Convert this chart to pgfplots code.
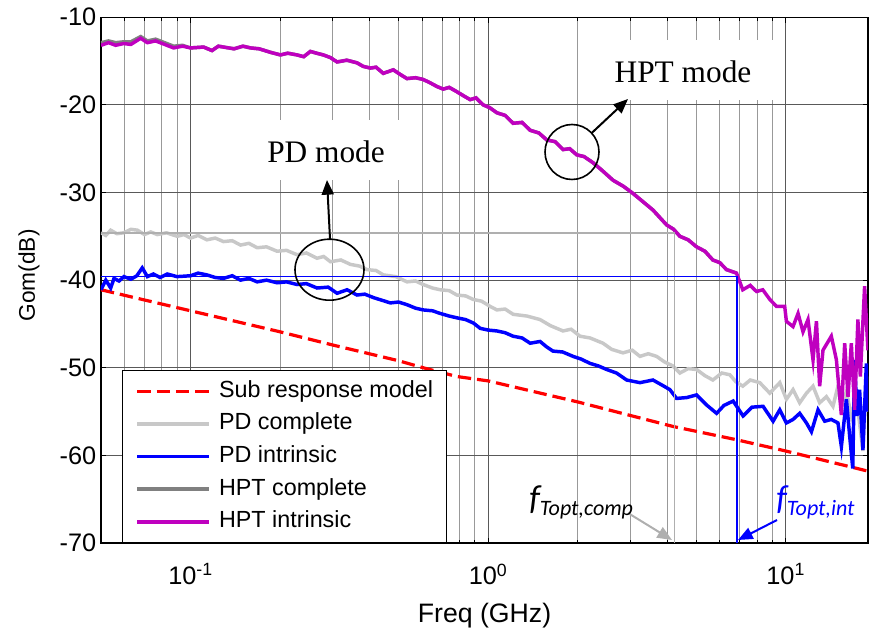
\documentclass[border=0pt]{standalone}
\usepackage{pgfplots}
\pgfplotsset{compat=1.18}
\usetikzlibrary{arrows.meta}
\usepackage{fontspec}
\setmainfont{Liberation Sans}
\newfontfamily\timesfont{Liberation Serif}
\newfontfamily\calfont{Carlito}
\definecolor{hptmag}{RGB}{191,0,191}
\definecolor{pdlight}{RGB}{200,200,200}
\definecolor{hptgray}{RGB}{128,128,128}
\definecolor{refgray}{RGB}{175,175,175}

\begin{document}
\begin{tikzpicture}
\useasboundingbox (0,0) rectangle (652.5pt,474pt);
\begin{axis}[
  at={(75.75pt,66.75pt)}, anchor=south west,
  width=575.25pt, height=394.3pt, scale only axis,
  xmode=log, xmin=0.05, xmax=18.9,
  ymin=-70, ymax=-10,
  xtick={0.1,1,10},
  xticklabels={10\textsuperscript{-1},10\textsuperscript{0},10\textsuperscript{1}},
  minor xtick={0.05,0.06,0.07,0.08,0.09,0.2,0.3,0.4,0.5,0.6,0.7,0.8,0.9,2,3,4,5,6,7,8,9},
  ytick={-70,-60,-50,-40,-30,-20,-10},
  yticklabels={-70,-60,-50,-40,-30,-20,-10},
  grid=both,
  major grid style={black!65, line width=0.6pt},
  minor grid style={black!40, line width=0.6pt},
  tick align=inside,
  major tick length=4pt, minor tick length=2.5pt,
  tick style={black, line width=0.6pt},
  axis line style={line width=1pt},
  ticklabel style={font=\fontsize{19}{21}\selectfont},
  xticklabel style={yshift=-12pt},
  xlabel={Freq (GHz)},
  xlabel style={at={(axis description cs:0.5,-0.139)}, anchor=center, font=\fontsize{20}{22}\selectfont},
  ylabel={Gom(dB)},
  ylabel style={at={(axis description cs:-0.094,0.509)}, anchor=center, font=\fontsize{17}{19}\selectfont},
  legend image code/.code={\draw[#1] (0pt,0pt) -- (54pt,0pt);},
  legend cell align=left,
  legend style={at={(0.027,0)}, anchor=south west, draw=black, line width=0.8pt,
    fill=white, font=\fontsize{17.5}{20}\selectfont,
    inner xsep=10pt, inner ysep=7pt, row sep=7.5pt,
    nodes={inner sep=0pt, text height=13pt, text depth=4pt}},
  /tikz/every odd column/.append style={column sep=6pt},
]

% Sub response model
\addplot[red, dash pattern=on 10pt off 4.5pt, line width=2.4pt] coordinates {
(0.05,-41.1)(0.1,-43.5)(0.2,-45.9)(0.3,-47.4)(0.5,-49.2)(0.605,-50.0)(0.785,-51.0)
(1.0,-51.5)(2.0,-53.9)(4.18,-56.7)(6.8,-58.2)(10,-59.5)(18.9,-61.8)
};
\addlegendentry{Sub response model}

% PD complete
\addplot[pdlight, line width=2.6pt] coordinates {
(0.05,-34.6)(0.0519,-34.9)(0.0539,-34.3)(0.0565,-34.7)(0.0596,-34.6)(0.063,-34.2)(0.0663,-34.3)
(0.070,-34.8)(0.0735,-34.5)(0.0773,-34.8)(0.083,-34.6)(0.0902,-35.0)(0.095,-34.8)
(0.1,-35.2)(0.106,-34.9)(0.1134,-35.4)(0.121,-35.2)(0.129,-35.6)(0.138,-35.5)(0.1472,-36.0)
(0.157,-35.8)(0.1674,-36.3)(0.18,-36.2)(0.1953,-36.7)(0.21,-36.6)(0.228,-37.1)(0.245,-36.9)
(0.2661,-37.5)(0.28,-37.3)(0.2951,-37.9)(0.32,-37.7)(0.3442,-38.2)(0.37,-38.4)(0.3917,-38.8)
(0.42,-38.9)(0.4442,-39.4)(0.49,-39.6)(0.5336,-40.2)(0.57,-40.1)(0.605,-40.5)(0.65,-40.9)
(0.69,-41.1)(0.74,-41.2)(0.785,-41.7)(0.84,-41.8)(0.8905,-42.2)(0.95,-42.4)(1.016,-43.0)
(1.07,-43.4)(1.14,-43.3)(1.213,-43.9)(1.35,-44.1)(1.494,-44.5)(1.62,-45.2)(1.785,-45.8)
(1.9,-45.6)(2.036,-46.4)(2.2,-46.6)(2.432,-47.2)(2.6,-47.9)(2.838,-48.3)(3.05,-48.0)
(3.236,-48.7)(3.45,-48.4)(3.682,-48.7)(3.9,-49.3)(4.177,-49.8)(4.409,-50.6)(4.7,-50.1)
(5.016,-50.2)(5.35,-50.9)(5.689,-51.4)(6.1,-50.6)(6.488,-50.8)(6.8,-51.6)(7.172,-52.1)
(7.6,-51.4)(8.18,-51.7)(8.84,-52.9)(9.55,-51.7)
(10.05,-53.6)(10.58,-52.5)(11.14,-54.0)(11.74,-52.9)(12.35,-52.1)(13.0,-54.0)
(13.70,-53.3)(14.41,-54.4)(14.98,-52.1)(15.38,-54.4)(15.99,-52.7)(16.61,-55.5)
(17.27,-53.3)(18.17,-59.5)(18.66,-51.0)(18.89,-55.0)
};
\addlegendentry{PD complete}

% PD intrinsic
\addplot[blue, line width=2.6pt] coordinates {
(0.05,-41.1)(0.0519,-40.0)(0.0539,-40.9)(0.0553,-39.8)(0.0575,-40.1)(0.0597,-39.6)(0.063,-39.9)
(0.066,-39.5)(0.0688,-38.6)(0.0716,-39.6)(0.075,-39.3)(0.079,-39.7)(0.0835,-39.3)(0.09,-39.6)
(0.1,-39.5)(0.106,-39.2)(0.1134,-39.4)(0.121,-39.7)(0.129,-39.8)(0.138,-39.5)(0.1472,-40.0)
(0.157,-39.8)(0.1674,-40.2)(0.18,-40.0)(0.1953,-40.3)(0.21,-40.2)(0.228,-40.5)(0.245,-40.4)
(0.2661,-40.9)(0.29,-40.8)(0.3107,-41.5)(0.3357,-41.1)(0.3625,-41.7)(0.385,-41.6)
(0.4122,-42.0)(0.44,-42.3)(0.469,-42.6)(0.5,-42.5)(0.5336,-42.8)(0.57,-43.2)(0.605,-43.4)
(0.65,-43.5)(0.69,-43.8)(0.74,-44.1)(0.785,-44.3)(0.84,-44.5)(0.8926,-44.9)(0.94,-45.5)
(1.0,-45.7)(1.07,-45.8)(1.14,-46.0)(1.213,-46.4)(1.3,-46.6)(1.384,-47.2)(1.494,-47.0)
(1.57,-47.6)(1.652,-48.1)(1.78,-48.2)(1.929,-48.7)(2.05,-49.0)(2.199,-49.5)(2.35,-49.8)
(2.502,-50.2)(2.7,-50.6)(2.921,-51.4)(3.236,-51.7)(3.579,-51.4)(3.85,-52.0)(4.081,-52.5)
(4.298,-53.5)(4.65,-53.4)(5.016,-53.1)(5.4,-54.2)(5.855,-55.2)(6.2,-54.3)(6.657,-53.8)
(7.19,-55.5)(7.7,-54.5)(8.39,-54.4)(9.07,-56.1)(9.55,-54.8)
(10.05,-56.3)(10.58,-55.9)(11.14,-55.2)(11.74,-56.3)(12.20,-57.3)(12.84,-54.8)
(13.52,-56.1)(14.23,-55.9)(14.98,-56.3)(15.38,-59.0)(15.99,-53.6)(16.40,-57.8)
(16.8,-61.5)(17.04,-49.1)(17.35,-55.5)(17.71,-52.5)(18.17,-59.4)(18.66,-49.5)(18.89,-55.0)
};
\addlegendentry{PD intrinsic}

% HPT complete (hidden under the intrinsic curve except at low frequency)
\addplot[hptgray, line width=2.6pt] coordinates {
(0.05,-12.9)(0.053,-12.7)(0.056,-12.9)(0.0596,-12.8)(0.063,-12.8)(0.068,-12.2)
(0.0716,-12.7)(0.0763,-12.5)(0.0804,-12.8)(0.0877,-13.3)(0.094,-13.2)(0.1,-13.5)(0.1106,-13.4)
(0.118,-13.8)(0.124,-13.3)(0.129,-13.4)(0.14,-13.6)(0.15,-13.3)(0.159,-13.5)(0.17,-13.6)
(0.1855,-14.0)(0.2005,-14.3)(0.212,-14.1)(0.228,-14.3)(0.24,-14.5)(0.2527,-13.9)(0.265,-14.1)
(0.2794,-14.3)(0.295,-14.6)(0.3107,-15.1)(0.335,-14.9)(0.3625,-15.2)(0.38,-15.6)(0.4018,-15.8)
(0.42,-15.7)(0.4442,-16.4)(0.48,-16.0)(0.505,-16.5)(0.5336,-17.0)(0.57,-16.9)(0.605,-17.1)
(0.64,-17.5)(0.6727,-17.9)(0.7063,-18.2)(0.74,-18.0)(0.785,-18.5)(0.83,-19.0)(0.87,-19.4)
(0.91,-19.2)(0.962,-20.0)(1.01,-20.3)(1.07,-20.9)(1.14,-21.2)(1.213,-22.1)(1.3,-22.0)
(1.384,-22.9)(1.48,-23.2)(1.574,-24.0)(1.68,-24.2)(1.785,-25.1)(1.88,-25.0)(1.985,-25.7)
(2.1,-25.9)(2.251,-26.6)(2.4,-27.4)(2.628,-28.6)(2.85,-29.3)(3.066,-30.1)(3.3,-31.0)
(3.579,-32.0)(3.979,-33.7)(4.2,-34.2)(4.409,-35.0)(4.7,-35.4)(5.016,-36.2)(5.35,-36.7)
(5.689,-37.7)(6.0,-38.0)(6.324,-38.8)(6.834,-39.2)
};
\addlegendentry{HPT complete}

% HPT intrinsic
\addplot[hptmag, line width=2.6pt] coordinates {
(0.05,-13.2)(0.053,-12.9)(0.056,-13.2)(0.0596,-13.0)(0.063,-13.1)(0.068,-12.4)
(0.0716,-12.9)(0.0763,-12.7)(0.0804,-13.0)(0.0877,-13.5)(0.094,-13.3)(0.1,-13.5)(0.1106,-13.4)
(0.118,-13.8)(0.124,-13.3)(0.129,-13.4)(0.14,-13.6)(0.15,-13.3)(0.159,-13.5)(0.17,-13.6)
(0.1855,-14.0)(0.2005,-14.3)(0.212,-14.1)(0.228,-14.3)(0.24,-14.5)(0.2527,-13.9)(0.265,-14.1)
(0.2794,-14.3)(0.295,-14.6)(0.3107,-15.1)(0.335,-14.9)(0.3625,-15.2)(0.38,-15.6)(0.4018,-15.8)
(0.42,-15.7)(0.4442,-16.4)(0.48,-16.0)(0.505,-16.5)(0.5336,-17.0)(0.57,-16.9)(0.605,-17.1)
(0.64,-17.5)(0.6727,-17.9)(0.7063,-18.2)(0.74,-18.0)(0.785,-18.5)(0.83,-19.0)(0.87,-19.4)
(0.91,-19.2)(0.962,-20.0)(1.01,-20.3)(1.07,-20.9)(1.14,-21.2)(1.213,-22.1)(1.3,-22.0)
(1.384,-22.9)(1.48,-23.2)(1.574,-24.0)(1.68,-24.2)(1.785,-25.1)(1.88,-25.0)(1.985,-25.7)
(2.1,-25.9)(2.251,-26.6)(2.4,-27.4)(2.628,-28.6)(2.85,-29.3)(3.066,-30.1)(3.3,-31.0)
(3.579,-32.0)(3.979,-33.7)(4.2,-34.2)(4.409,-35.0)(4.7,-35.4)(5.016,-36.2)(5.35,-36.7)
(5.689,-37.7)(6.0,-38.0)(6.324,-38.8)(6.834,-39.2)(7.172,-41.1)
(7.6,-40.6)(7.975,-41.3)(8.372,-41.1)(8.84,-42.2)(9.31,-43.0)(9.92,-43.0)(10.05,-44.7)
(10.58,-45.3)(11.0,-43.8)(11.43,-45.9)(11.88,-44.5)(12.35,-49.1)(12.68,-44.7)
(13.0,-52.1)(13.34,-48.0)(14.23,-46.4)(14.80,-49.1)(15.38,-55.4)(15.78,-47.2)
(16.19,-53.3)(16.61,-47.2)(17.04,-54.8)(17.48,-44.5)(17.81,-51.0)(18.41,-40.7)(18.89,-48.0)
};
\addlegendentry{HPT intrinsic}

% optimum frequency markers
\addplot[refgray, line width=1.1pt, forget plot] coordinates {(0.05,-34.6)(4.22,-34.6)(4.22,-70)};
\addplot[blue, line width=1.1pt, forget plot] coordinates {(0.05,-39.6)(6.85,-39.6)(6.85,-70)};
\end{axis}

% annotations, in pixel units of the reference
\begin{scope}[shift={(0pt,474pt)}, x=0.75pt, y=-0.75pt]
  \fill[white] (258,120) rectangle (405,180);
  \node[font=\timesfont\fontsize{23.5}{24}\selectfont] at (326,152) {PD mode};
  \fill[white] (605,40) rectangle (778,100);
  \node[font=\timesfont\fontsize{23.5}{24}\selectfont] at (683,72) {HPT mode};
  \draw[line width=1.2pt] (329.5,269.7) ellipse [x radius=34.5, y radius=30.5];
  \draw[line width=1.2pt] (572,152) ellipse [x radius=27, y radius=27.5];
  \draw[line width=1.5pt, -{Triangle[length=11pt, width=9pt]}] (330,239) -- (327,180);
  \draw[line width=1.5pt, -{Triangle[length=11pt, width=9pt]}] (591.7,133) -- (628,99);
  \draw[refgray, line width=1.5pt, -{Triangle[length=11pt, width=9pt]}] (628,513) -- (672,540);
  \draw[blue, line width=1.5pt, -{Triangle[length=11pt, width=9pt]}] (777,520) -- (738,540);
  \node[anchor=base west, inner sep=0pt, font=\calfont\itshape\fontsize{26}{26}\selectfont] at (529,509)
    {f\raisebox{-5pt}{\fontsize{16.5}{16.5}\selectfont Topt,comp}};
  \node[anchor=base west, inner sep=0pt, text=blue, font=\calfont\itshape\fontsize{26}{26}\selectfont] at (776,509)
    {f\raisebox{-5pt}{\fontsize{16.5}{16.5}\selectfont Topt,int}};
\end{scope}
\end{tikzpicture}
\end{document}
